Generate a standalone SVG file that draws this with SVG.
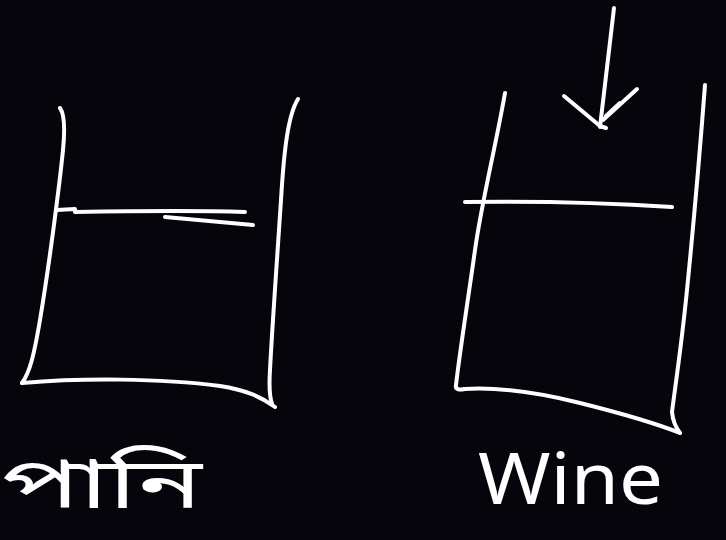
<svg xmlns="http://www.w3.org/2000/svg" width="726" height="540" viewBox="0 0 726 540">
<style>
.s{fill:none;stroke:#ffffff;stroke-width:4;stroke-linecap:round;stroke-linejoin:round}
.t{fill:#ffffff;font-family:"Noto Sans Bengali","Noto Sans","Liberation Sans",sans-serif}
</style>
<rect width="726" height="540" fill="#06050b"/>
<g id="water-container">
<path class="s" d="M60,108 C65,115 65,130 63,150 C60,180 50,260 40,320 C34,355 30,372 22,383"/>
<path class="s" d="M22,383 C80,378 160,378 220,386 C245,390 260,396 275,407"/>
<path class="s" d="M298,99 C288,115 284,150 281,200 C277,260 272,330 270,370 C269,385 270,398 272,404"/>
<path class="s" d="M57,210 L75,209 L75,212 C130,211 190,210 245,212"/>
<path class="s" d="M165,217 L253,225"/>
</g>
<g id="wine-container">
<path class="s" d="M505,93 C495,150 482,200 475,250 C468,300 460,350 456,385 C455,390 460,390 465,389"/>
<path class="s" d="M465,389 C500,387 540,393 580,403 C620,413 655,423 680,433"/>
<path class="s" d="M705,85 C700,150 693,230 687,290 C681,350 674,395 672,412 C673,422 676,428 680,433"/>
<path class="s" d="M465,202 C540,201 610,203 672,207"/>
</g>
<g id="connectors">
<path class="s" d="M614,8 L600,127"/>
<path class="s" d="M564,96 L600,126 L606,128" stroke-width="6"/>
<path class="s" d="M637,89 L603,120"/>
<path class="s" d="M620,103 L606,116"/>
</g>
<g id="labels">
<text class="t" x="2" y="508" font-size="70" textLength="200" lengthAdjust="spacingAndGlyphs">পানি</text>
<text class="t" x="478" y="504" font-size="72" textLength="185" lengthAdjust="spacingAndGlyphs">Wine</text>
</g>
</svg>
